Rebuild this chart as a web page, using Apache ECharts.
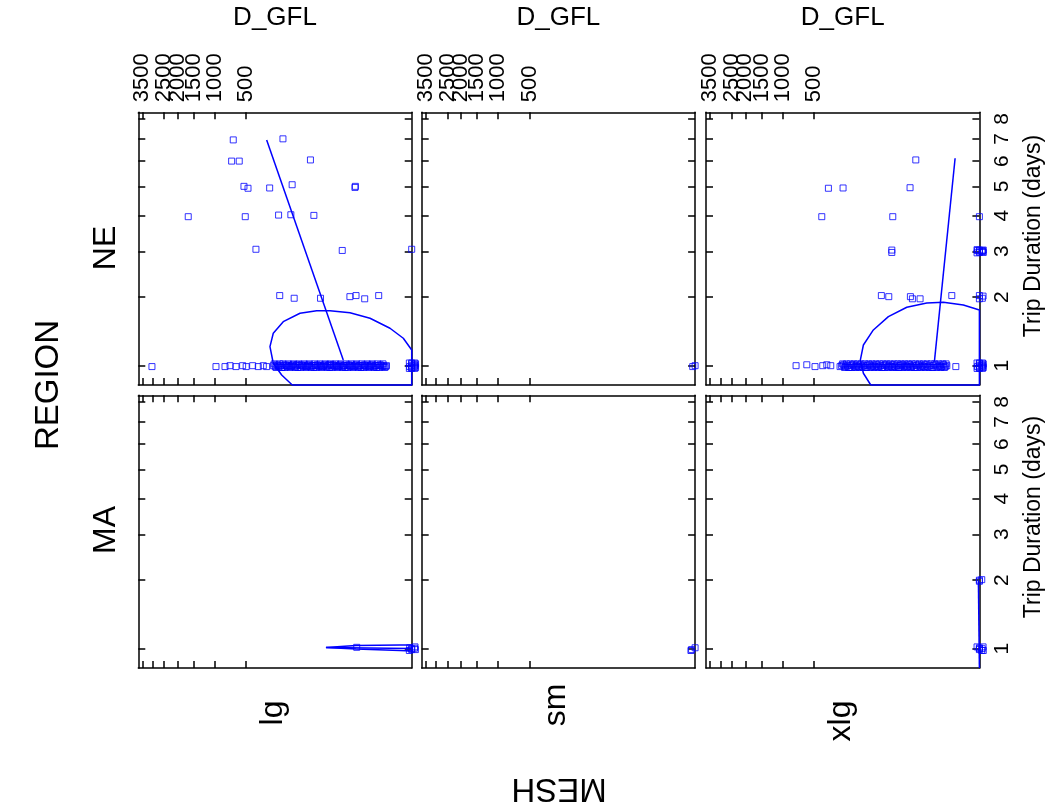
<!DOCTYPE html>
<html>
<head>
<meta charset="utf-8">
<script src="https://cdn.jsdelivr.net/npm/echarts@6.0.0/dist/echarts.min.js"></script>
<style>
html,body{margin:0;padding:0;background:#fff;}
#chart{width:1049px;height:812px;}
</style>
</head>
<body>
<div id="chart"></div>
<script>
// ---------------- DATA ----------------
const regions = ['NE', 'MA'];
const meshes = ['lg', 'sm', 'xlg'];
const dgflTicks = [500, 1000, 1500, 2000, 2500, 3000, 3500];
const dayTicks = [1, 2, 3, 4, 5, 6, 7, 8];
const dgflMax = 3720;      // D_GFL axis range 0 .. 3720 (power 1/4 scale, reversed)
const dayMin = 0.803;      // Trip Duration axis range (power 1/4 scale)
const dayMax = 8.35;

// points: [D_GFL, Trip Duration (days)]
const neLgPoints = [
  [675, 6.95], [183, 7.0], [700, 6.0], [589, 6.0], [70, 6.05],
  [527, 5.0], [478, 4.93], [271, 4.94], [136, 5.06], [6.7, 5.0], [6.9, 4.96],
  [1660, 3.97], [511, 3.97], [209, 4.02], [142, 4.03], [61, 4.01],
  [392, 3.05], [15.5, 3.02], [0, 3.05],
  [202, 2.03], [127, 1.98], [46, 1.98], [9.7, 2.01], [6.4, 2.03], [3.25, 1.97], [0.79, 2.03]
];
const neLgDay1 = [
  [3031, 0.99], [977, 0.99], [809, 0.99], [725, 1.0], [635, 0.99], [544, 1.0], [500, 0.99],
  [426, 1.0], [369, 0.99], [323, 1.0], [295, 0.99],
  [244, 1.0], [231, 0.99], [219, 1.01], [208, 0.99], [197, 1.0], [187, 0.98], [177, 1.0],
  [168, 1.01], [159, 0.99], [150, 1.0], [142, 0.99], [134, 1.01], [126, 0.99], [119, 1.0],
  [112, 0.98], [105, 1.0], [98, 1.01], [92, 0.99], [86, 1.0], [81, 0.99], [76, 1.01],
  [71, 0.99], [66, 1.0], [61, 0.98], [57, 1.0], [53, 1.01], [49, 0.99], [46, 1.0],
  [42, 0.99], [39, 1.01], [36, 0.99], [33, 1.0], [30, 0.98], [28, 1.0], [25.5, 1.01],
  [23.4, 0.99], [21.3, 1.0], [19.4, 0.99], [17.6, 1.01], [16, 0.99], [14.4, 1.0], [13, 0.98],
  [11.7, 1.0], [10.5, 1.01], [9.4, 0.99], [8.4, 1.0], [7.4, 0.99], [6.5, 1.01], [5.7, 0.99],
  [5.1, 1.0], [4.4, 0.98], [3.8, 1.0], [3.3, 1.01], [2.9, 0.99], [2.4, 1.0], [2.1, 0.99],
  [1.75, 1.01], [1.46, 0.99], [1.2, 1.0], [1.0, 0.98], [0.8, 1.0], [0.66, 1.01], [0.5, 0.99],
  [0.41, 1.0], [0.3, 0.99],
  [238, 1.02], [225, 0.98], [213, 1.0], [202, 1.02], [192, 0.98], [182, 1.02], [172, 0.98],
  [163, 1.0], [154, 1.02], [146, 0.98], [138, 1.0], [130, 1.02], [122, 0.98], [115, 1.01],
  [108, 1.02], [101, 0.98], [95, 1.0], [89, 1.02], [83, 0.98], [78, 1.0], [73, 1.02],
  [68, 0.98], [63, 1.0], [59, 1.02], [55, 0.98], [51, 1.0], [47, 1.02], [44, 0.98],
  [40, 1.0], [37, 1.02], [34, 0.98], [31, 1.01], [29, 1.02], [26.5, 0.98], [24.4, 1.0],
  [22.3, 1.02], [20.3, 0.98], [18.5, 1.0], [16.8, 1.02], [15.2, 0.98], [13.7, 1.0], [12.3, 1.02],
  [11.1, 0.98], [9.9, 1.0], [8.9, 1.02], [7.9, 0.98], [6.9, 1.0], [6.1, 1.02], [5.4, 0.98],
  [4.7, 1.0], [4.1, 1.02], [3.5, 0.98], [3.1, 1.0], [2.6, 1.02], [2.25, 0.98], [1.9, 1.0],
  [1.6, 1.02], [1.33, 0.98], [1.1, 1.0], [0.9, 1.02], [0.73, 0.98], [0.58, 1.0], [0.45, 1.02],
  [0.35, 0.98], [0.27, 1.0],
  [0, 1.0], [0, 0.98], [0, 1.02], [0, 0.97], [0, 1.03], [-0.00003, 0.99], [-0.00003, 1.01],
  [-0.0001, 1.0], [-0.00015, 0.98], [-0.00015, 1.02], [-0.00006, 0.97], [-0.00006, 1.03],
  [0.00001, 0.99], [0.00002, 0.97], [0.00002, 1.03]
];
const neLgFit = [[294.6, 6.95], [14.6, 1.065]];
const neLgEllipse = [
  [135.4, 0.803], [190.3, 0.901], [244.5, 1.027], [268.7, 1.227], [244.5, 1.409], [181.2, 1.582],
  [103.7, 1.718], [54.3, 1.761], [29.7, 1.761], [9.66, 1.727], [2.01, 1.636], [0.148, 1.482],
  [0.0033, 1.339], [0, 1.185], [0, 0.803], [135.4, 0.803]
];

const neSmPoints = [[0, 1.0], [0.00002, 0.99]];

const neXlgPoints = [
  [10.9, 6.05], [346, 4.93], [230, 4.94], [15.4, 4.95], [411, 3.97], [37.5, 3.97], [0, 3.97],
  [39.2, 3.03], [39.2, 2.97],
  [0, 3.0], [0, 2.97], [0, 3.03], [-0.00003, 3.0], [-0.00008, 2.99], [0.00001, 3.02],
  [-0.00015, 2.97], [-0.00015, 3.03], [0.00002, 2.96], [0.00002, 3.04], [-0.00006, 3.02],
  [61.5, 2.03], [44.9, 2.01], [15.1, 2.01], [13.4, 1.97], [8.24, 1.97], [0.387, 2.03],
  [0, 2.03], [0, 1.97], [-0.00005, 1.98], [-0.00012, 2.02]
];
const neXlgDay1 = [
  [752, 1.0], [591, 1.01], [486, 0.99], [401, 1.0], [361, 1.01], [325, 1.0], [251, 0.99],
  [240, 1.0], [226, 1.01], [214, 0.99], [202, 1.0], [190, 0.98], [180, 1.0], [170, 1.01],
  [160, 0.99], [151, 1.0], [143, 0.99], [134, 1.01], [126, 0.99], [118, 1.0], [111, 0.98],
  [104, 1.0], [97, 1.01], [91, 0.99], [85, 1.0], [79, 0.99], [74, 1.01], [69, 0.99],
  [64, 1.0], [59, 0.98], [55, 1.0], [51, 1.01], [47, 0.99], [44, 1.0], [40, 0.99],
  [37, 1.01], [34, 0.99], [31, 1.0], [28.5, 0.98], [26, 1.0], [23.8, 1.01], [21.6, 0.99],
  [19.6, 1.0], [17.8, 0.99], [16, 1.01], [14.5, 0.99], [13, 1.0], [11.6, 0.98], [10.4, 1.0],
  [9.2, 1.01], [8.1, 0.99], [7.1, 1.0], [6.2, 0.99], [5.4, 1.01], [4.7, 0.99], [4.0, 1.0],
  [3.4, 0.98], [2.9, 1.0], [2.4, 1.01], [2.0, 0.99], [1.65, 1.0], [1.35, 0.99], [1.1, 1.01],
  [0.9, 0.99], [0.75, 1.0], [0.206, 0.99],
  [233, 1.02], [220, 0.98], [208, 1.02], [196, 0.98], [185, 1.02], [175, 0.98], [165, 1.02],
  [155, 0.98], [147, 1.02], [138, 0.98], [130, 1.02], [122, 0.98], [114, 1.02], [107, 0.98],
  [100, 1.02], [94, 0.98], [88, 1.02], [82, 0.98], [76, 1.02], [71, 0.98], [66, 1.02],
  [61, 0.98], [57, 1.02], [53, 0.98], [49, 1.02], [45, 0.98], [42, 1.02], [38, 0.98],
  [35, 1.02], [32.5, 0.98], [29.7, 1.02], [27.2, 0.98], [24.9, 1.02], [22.7, 0.98], [20.6, 1.02],
  [18.7, 0.98], [16.9, 1.02], [15.2, 0.98], [13.7, 1.02], [12.3, 0.98], [11, 1.02], [9.8, 0.98],
  [8.6, 1.02], [7.6, 0.98], [6.6, 1.02], [5.8, 0.98], [5.0, 1.02], [4.3, 0.98], [3.7, 1.02],
  [3.1, 0.98], [2.65, 1.02], [2.2, 0.98], [1.8, 1.02], [1.5, 0.98], [1.2, 1.02], [1.0, 0.98],
  [0.82, 1.02],
  [0, 1.0], [0, 0.98], [0, 1.02], [0, 0.97], [0, 1.03], [-0.00003, 0.99], [-0.00003, 1.01],
  [-0.0001, 1.0], [-0.00015, 0.98], [-0.00015, 1.02], [-0.00006, 0.97], [-0.00006, 1.03],
  [0.00001, 0.99], [0.00002, 0.97], [0.00002, 1.03]
];
const neXlgFit = [[0.232, 6.12], [2.73, 1.045]];
const neXlgEllipse = [
  [92.7, 0.803], [120.6, 0.919], [133.6, 1.065], [120.6, 1.249], [84.2, 1.457], [45.7, 1.662],
  [18.5, 1.819], [5.1, 1.895], [1.12, 1.907], [0.044, 1.859], [0, 1.773], [0, 0.803], [92.7, 0.803]
];

const maLgPoints = [
  [6.09, 1.015], [0, 1.0], [0, 0.99], [-0.00004, 1.005], [0.00001, 1.01],
  [-0.00012, 0.99], [0.00002, 0.98], [-0.00008, 1.02]
];
const maLgFit = [[36, 1.013], [0, 1.002]];
const maLgEllipse = [
  [36, 1.013], [6.41, 1.036], [0.0125, 1.041], [0, 1.041], [0, 0.975], [0.0125, 0.98], [6.41, 0.997], [36, 1.013]
];

const maSmPoints = [[0.0002, 0.98], [0, 1.01], [0.0001, 0.99]];

const maXlgPoints = [
  [0, 1.0], [0, 0.99], [0, 1.01], [-0.00004, 1.0], [-0.00002, 0.98], [-0.00012, 1.02],
  [0.00002, 1.02], [-0.00015, 0.98],
  [0, 2.0], [0, 1.98], [-0.00002, 2.01]
];
const maXlgFit = [[0.0000007, 2.0], [0, 0.803]];

const panels = [
  { r: 0, c: 0, points: neLgPoints.concat(neLgDay1), fit: neLgFit, ellipse: neLgEllipse },
  { r: 0, c: 1, points: neSmPoints, fit: null, ellipse: null },
  { r: 0, c: 2, points: neXlgPoints.concat(neXlgDay1), fit: neXlgFit, ellipse: neXlgEllipse },
  { r: 1, c: 0, points: maLgPoints, fit: maLgFit, ellipse: maLgEllipse },
  { r: 1, c: 1, points: maSmPoints, fit: null, ellipse: null },
  { r: 1, c: 2, points: maXlgPoints, fit: maXlgFit, ellipse: null }
];

// ---------------- LAYOUT / STYLE ----------------
const BLUE = '#0000ff';
const FONT = 'Liberation Sans, Arial, Helvetica, sans-serif';
const colLeft = [138.3, 421.7, 706];
const colWidth = 273.4;
const rowTop = [112.3, 395.3];
const rowHeight = 272.7;

// power 1/4 transform used by both axes
const tx = v => Math.sign(v) * Math.pow(Math.abs(v), 0.25);
const ty = d => Math.pow(d, 0.25);
const mapPts = arr => arr.map(p => [tx(p[0]), ty(p[1])]);

const grids = [], xAxes = [], yAxes = [], series = [];
const axisLineStyle = { color: '#000', width: 1.5 };
const tickStyle = { color: '#000', width: 1.5 };

panels.forEach((p, g) => {
  grids.push({ left: colLeft[p.c], top: rowTop[p.r], width: colWidth, height: rowHeight });
  const xBase = {
    type: 'value', gridIndex: g, min: 0, max: tx(dgflMax), inverse: true,
    splitLine: { show: false },
    axisLine: { show: true, onZero: false, lineStyle: axisLineStyle },
    axisTick: { show: true, inside: true, length: 7, lineStyle: tickStyle, customValues: dgflTicks.map(tx) }
  };
  xAxes.push(Object.assign({}, xBase, {
    position: 'top',
    axisLabel: {
      show: p.r === 0, rotate: -90, margin: 10, color: '#000', fontSize: 22, fontFamily: FONT,
      hideOverlap: false, showMinLabel: true, showMaxLabel: true,
      customValues: dgflTicks.map(tx), formatter: v => String(Math.round(Math.pow(v, 4)))
    }
  }));
  xAxes.push(Object.assign({}, xBase, { position: 'bottom', axisLabel: { show: false } }));
  const yBase = {
    type: 'value', gridIndex: g, min: ty(dayMin), max: ty(dayMax),
    splitLine: { show: false },
    axisLine: { show: true, onZero: false, lineStyle: axisLineStyle },
    axisTick: { show: true, inside: true, length: 7, lineStyle: tickStyle, customValues: dayTicks.map(ty) }
  };
  yAxes.push(Object.assign({}, yBase, {
    position: 'right',
    axisLabel: {
      show: p.c === 2, rotate: 90, margin: 12, color: '#000', fontSize: 21, fontFamily: FONT,
      hideOverlap: false,
      customValues: dayTicks.map(ty), formatter: v => String(Math.round(Math.pow(v, 4)))
    }
  }));
  yAxes.push(Object.assign({}, yBase, { position: 'left', axisLabel: { show: false } }));

  const xi = 2 * g, yi = 2 * g;
  series.push({
    type: 'scatter', xAxisIndex: xi, yAxisIndex: yi, clip: false,
    symbol: 'rect', symbolSize: 6,
    itemStyle: { color: 'rgba(0,0,0,0)', borderColor: BLUE, borderWidth: 1 },
    data: mapPts(p.points)
  });
  if (p.fit) series.push({
    type: 'line', xAxisIndex: xi, yAxisIndex: yi, clip: false, showSymbol: false,
    lineStyle: { color: BLUE, width: 1.5 }, data: mapPts(p.fit)
  });
  if (p.ellipse) series.push({
    type: 'line', xAxisIndex: xi, yAxisIndex: yi, clip: false, showSymbol: false,
    lineStyle: { color: BLUE, width: 1.5 }, data: mapPts(p.ellipse)
  });
});

const txt = (text, x, y, rot, size) => ({
  type: 'text', x: x, y: y, rotation: rot,
  style: { text: text, fill: '#000', font: size + 'px ' + FONT, textAlign: 'center', textVerticalAlign: 'middle' }
});
const graphics = [];
colLeft.forEach(l => graphics.push(txt('D_GFL', l + colWidth / 2, 18, 0, 26)));
graphics.push(txt('Trip Duration (days)', 1034, 236, Math.PI / 2, 23));
graphics.push(txt('Trip Duration (days)', 1034, 517, Math.PI / 2, 23));
graphics.push(txt('REGION', 49, 385, Math.PI / 2, 33));
graphics.push(txt(regions[0], 106, 248, Math.PI / 2, 32));
graphics.push(txt(regions[1], 106, 530, Math.PI / 2, 32));
const meshY = [713, 705, 721];
meshes.forEach((m, i) => graphics.push(txt(m, colLeft[i] + colWidth / 2 - 2, meshY[i], Math.PI / 2, 32)));
graphics.push(txt('MESH', 559, 788, Math.PI, 33));

const chart = echarts.init(document.getElementById('chart'), null, { renderer: 'canvas' });
chart.setOption({
  animation: false,
  backgroundColor: '#fff',
  grid: grids, xAxis: xAxes, yAxis: yAxes, series: series,
  graphic: graphics
});
</script>
</body>
</html>
